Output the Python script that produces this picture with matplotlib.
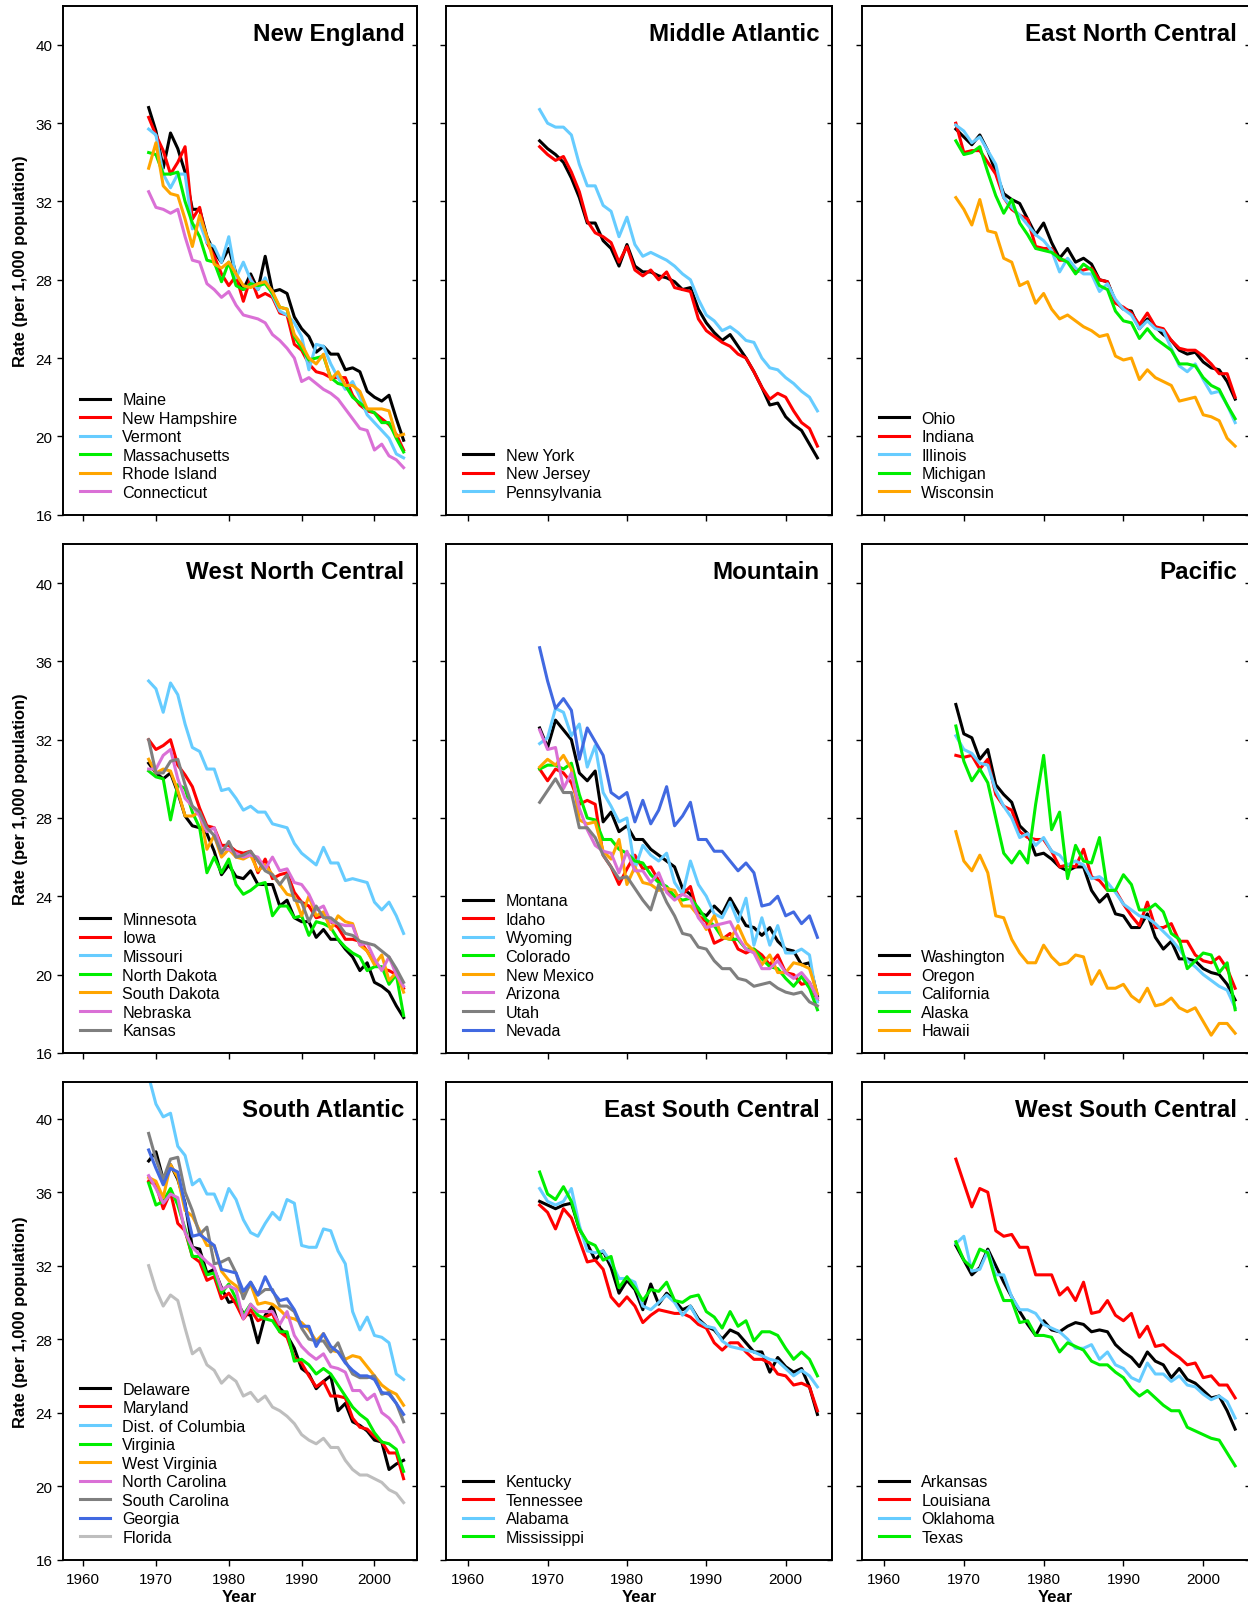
# state_rates_by_division.py
# Rate (per 1,000 population) by state, 1969-2004, one panel per census division

import matplotlib
matplotlib.use('Agg')
import matplotlib.pyplot as plt
import matplotlib.transforms as mtransforms

plt.rcParams['font.family'] = ['Liberation Sans', 'DejaVu Sans']

# ── 1. Data ──────────────────────────────────────────────────────────────
years = list(range(1969, 2005))

# New England
maine = [36.8, 35.6, 33.7, 35.5, 34.7, 33.5, 31.6, 31.6, 30.2, 29.4, 28.9, 29.6, 28.3, 27.5, 28.3, 27.5, 29.2, 27.4,
         27.5, 27.3, 26.1, 25.5, 25.1, 24.3, 24.6, 24.2, 24.2, 23.4, 23.5, 23.3, 22.3, 22.0, 21.8, 22.1, 20.9, 19.8]
new_hampshire = [36.3, 35.4, 34.6, 33.4, 34.0, 34.8, 31.1, 31.7, 29.9, 29.2, 28.3, 27.7, 28.2, 26.9, 28.1, 27.1, 27.3, 27.1,
                 26.3, 26.2, 24.7, 24.4, 23.7, 23.3, 23.2, 23.0, 23.0, 23.0, 22.1, 21.6, 21.3, 21.2, 20.9, 20.6, 20.1, 19.3]
vermont = [35.7, 35.4, 33.4, 32.7, 33.4, 33.4, 30.6, 30.9, 29.9, 29.7, 28.9, 30.2, 28.1, 28.9, 28.0, 27.5, 28.1, 27.2,
           26.4, 26.2, 25.8, 25.1, 23.4, 24.7, 24.6, 23.7, 23.0, 22.4, 22.8, 22.0, 21.1, 20.7, 20.3, 19.9, 19.1, 18.9]
massachusetts = [34.5, 34.4, 33.4, 33.4, 33.5, 32.0, 30.9, 30.2, 29.0, 28.9, 27.9, 28.9, 27.7, 27.5, 27.8, 27.7, 27.8, 27.3,
                 26.6, 26.5, 25.1, 24.5, 23.9, 24.0, 24.1, 23.0, 22.7, 22.6, 22.0, 21.7, 21.4, 21.2, 20.7, 20.7, 19.9, 19.2]
rhode_island = [33.7, 35.0, 32.8, 32.4, 32.3, 31.1, 29.7, 31.3, 30.2, 28.8, 28.6, 28.9, 28.3, 27.7, 27.6, 27.8, 27.9, 27.4,
                26.6, 26.5, 25.2, 24.7, 24.0, 23.7, 24.2, 22.9, 23.3, 22.6, 22.6, 22.3, 21.4, 21.4, 21.4, 21.3, 20.0, 20.1]
connecticut = [32.5, 31.7, 31.6, 31.4, 31.6, 30.2, 29.0, 28.9, 27.8, 27.5, 27.1, 27.4, 26.7, 26.2, 26.1, 26.0, 25.8, 25.2,
               24.9, 24.5, 24.0, 22.8, 23.0, 22.7, 22.4, 22.2, 21.9, 21.4, 20.9, 20.4, 20.3, 19.3, 19.6, 19.0, 18.8, 18.4]

# Middle Atlantic
new_york = [35.1, 34.7, 34.4, 34.0, 33.2, 32.2, 30.9, 30.9, 30.0, 29.6, 28.7, 29.8, 28.7, 28.4, 28.4, 28.2, 28.1, 27.9,
            27.5, 27.6, 26.5, 25.8, 25.3, 24.9, 25.2, 24.6, 24.0, 23.3, 22.5, 21.6, 21.7, 21.0, 20.6, 20.3, 19.6, 18.9]
new_jersey = [34.8, 34.4, 34.1, 34.3, 33.5, 32.5, 31.0, 30.4, 30.2, 29.9, 28.9, 29.7, 28.5, 28.2, 28.5, 28.0, 28.4, 27.6,
              27.5, 27.4, 26.0, 25.4, 25.1, 24.8, 24.6, 24.2, 24.0, 23.3, 22.5, 21.9, 22.2, 22.0, 21.3, 20.7, 20.4, 19.5]
pennsylvania = [36.7, 36.0, 35.8, 35.8, 35.4, 33.9, 32.8, 32.8, 31.8, 31.5, 30.2, 31.2, 29.8, 29.2, 29.4, 29.2, 29.0, 28.7,
                28.3, 28.0, 27.0, 26.2, 25.9, 25.4, 25.6, 25.3, 24.9, 24.8, 24.0, 23.5, 23.4, 23.0, 22.7, 22.3, 22.0, 21.3]

# East North Central
ohio = [35.7, 35.3, 34.9, 35.4, 34.6, 33.5, 32.4, 32.1, 31.9, 31.1, 30.3, 30.9, 29.9, 29.1, 29.6, 28.9, 29.1, 28.8,
        28.0, 27.9, 26.9, 26.5, 26.4, 25.5, 26.0, 25.6, 25.2, 24.9, 24.4, 24.2, 24.3, 23.8, 23.5, 23.4, 22.8, 21.9]
indiana = [36.0, 34.5, 34.6, 34.6, 34.0, 33.4, 32.2, 31.6, 31.3, 31.1, 29.7, 29.6, 29.6, 29.0, 29.0, 28.4, 28.5, 28.6,
           28.0, 27.9, 26.8, 26.6, 26.3, 25.7, 26.3, 25.6, 25.5, 24.9, 24.5, 24.4, 24.4, 24.1, 23.7, 23.2, 23.2, 22.0]
illinois = [35.9, 35.6, 35.0, 35.3, 34.6, 33.9, 32.2, 31.7, 31.3, 30.8, 30.3, 30.0, 29.5, 28.4, 29.1, 28.6, 28.3, 28.3,
            27.4, 27.8, 27.0, 26.5, 26.2, 25.5, 25.9, 25.5, 25.4, 24.5, 23.6, 23.3, 23.7, 22.9, 22.2, 22.3, 21.6, 20.7]
michigan = [35.1, 34.4, 34.5, 34.8, 33.5, 32.3, 31.4, 32.1, 30.9, 30.3, 29.6, 29.5, 29.4, 29.1, 28.9, 28.3, 28.8, 28.5,
            27.7, 27.5, 26.4, 25.9, 25.8, 25.0, 25.5, 25.0, 24.7, 24.4, 23.7, 23.7, 23.6, 23.0, 22.6, 22.4, 21.6, 20.9]
wisconsin = [32.2, 31.6, 30.8, 32.1, 30.5, 30.4, 29.1, 28.9, 27.7, 27.9, 26.8, 27.3, 26.5, 26.0, 26.2, 25.9, 25.6, 25.4,
             25.1, 25.2, 24.1, 23.9, 24.0, 22.9, 23.4, 23.0, 22.8, 22.6, 21.8, 21.9, 22.0, 21.1, 21.0, 20.8, 19.9, 19.5]

# West North Central
minnesota = [30.8, 30.3, 30.0, 30.3, 29.3, 28.1, 27.6, 27.5, 27.2, 26.3, 25.1, 25.6, 25.0, 24.9, 25.3, 24.6, 24.6, 24.6,
             23.5, 23.8, 22.9, 22.7, 22.7, 21.9, 22.3, 21.8, 21.8, 21.3, 20.9, 20.2, 20.6, 19.6, 19.4, 19.1, 18.4, 17.8]
iowa = [32.0, 31.5, 31.7, 32.0, 30.7, 30.2, 29.6, 28.5, 27.6, 27.5, 26.6, 26.6, 26.3, 26.2, 26.3, 25.2, 25.9, 24.9,
        25.1, 25.2, 24.2, 23.7, 23.5, 22.9, 23.0, 22.7, 22.4, 21.8, 21.8, 21.7, 21.2, 20.6, 20.3, 20.2, 20.0, 19.3]
missouri = [35.0, 34.6, 33.4, 34.9, 34.3, 32.8, 31.6, 31.4, 30.5, 30.5, 29.4, 29.5, 29.0, 28.4, 28.6, 28.3, 28.3, 27.7,
            27.6, 27.5, 26.7, 26.2, 25.9, 25.6, 26.5, 25.7, 25.7, 24.8, 24.9, 24.8, 24.7, 23.7, 23.3, 23.7, 23.0, 22.1]
north_dakota = [30.4, 30.1, 30.0, 27.9, 29.7, 29.5, 28.3, 27.5, 25.2, 26.0, 25.2, 25.9, 24.6, 24.1, 24.3, 24.6, 24.7, 23.0,
                23.5, 23.5, 22.9, 23.0, 22.0, 22.7, 22.6, 22.4, 21.8, 21.4, 21.1, 20.9, 20.2, 20.4, 20.4, 19.5, 20.0, 17.9]
south_dakota = [31.0, 30.3, 30.5, 30.4, 29.4, 28.1, 28.1, 28.3, 26.4, 27.1, 26.0, 26.4, 26.0, 25.9, 26.1, 25.3, 25.6, 25.1,
                24.6, 24.1, 24.0, 23.0, 24.0, 23.0, 23.2, 22.3, 23.0, 22.7, 22.6, 21.5, 21.2, 20.5, 21.0, 19.7, 20.1, 19.1]
nebraska = [30.5, 30.5, 31.2, 31.5, 30.0, 29.0, 28.6, 28.1, 27.3, 27.5, 26.4, 26.4, 26.2, 26.0, 26.1, 26.0, 25.4, 26.0,
            25.3, 25.4, 24.7, 24.6, 24.1, 23.3, 23.5, 22.7, 22.6, 22.5, 22.5, 21.5, 21.6, 20.8, 20.2, 20.9, 20.0, 19.4]
kansas = [32.0, 30.3, 30.3, 30.9, 31.0, 29.7, 28.6, 28.3, 27.5, 27.1, 26.2, 26.8, 26.0, 26.1, 26.3, 25.8, 25.3, 25.1,
          24.6, 25.1, 23.8, 23.7, 22.7, 23.5, 22.9, 22.9, 22.6, 22.1, 22.0, 21.7, 21.6, 21.5, 21.2, 20.9, 20.3, 19.6]

# Mountain
montana = [32.6, 31.6, 33.0, 32.5, 32.0, 30.3, 29.9, 30.4, 27.8, 28.3, 27.3, 27.6, 26.9, 26.9, 26.4, 26.1, 25.8, 25.5,
           24.4, 24.1, 23.2, 23.0, 23.5, 23.1, 23.9, 23.2, 22.5, 22.4, 22.0, 22.4, 21.7, 21.3, 21.2, 20.5, 20.6, 18.9]
idaho = [30.5, 29.9, 30.5, 30.3, 29.8, 28.7, 28.9, 28.7, 26.1, 25.5, 24.6, 25.4, 26.1, 25.4, 25.5, 24.8, 24.4, 23.9,
         24.1, 24.5, 23.0, 22.7, 21.6, 21.8, 22.1, 21.3, 21.1, 21.3, 21.0, 20.5, 21.0, 20.1, 20.0, 19.5, 19.6, 18.7]
wyoming = [31.8, 32.1, 33.6, 33.4, 32.2, 32.8, 30.6, 31.7, 29.3, 28.6, 27.8, 28.0, 25.4, 26.6, 26.1, 25.8, 26.2, 24.7,
           24.1, 25.8, 24.6, 24.0, 23.1, 22.9, 23.7, 22.7, 23.9, 21.5, 22.9, 21.5, 22.5, 21.1, 21.1, 21.3, 21.0, 18.6]
colorado = [30.5, 30.7, 30.7, 30.5, 30.8, 29.2, 28.0, 27.9, 26.9, 26.9, 26.4, 26.2, 25.8, 25.7, 25.1, 24.7, 24.5, 24.0,
            23.8, 23.9, 23.4, 22.8, 22.5, 21.9, 21.8, 21.8, 21.3, 21.3, 20.8, 20.4, 20.3, 19.8, 19.4, 19.9, 19.3, 18.2]
new_mexico = [30.6, 31.0, 30.7, 31.2, 30.5, 27.9, 27.7, 27.8, 26.3, 25.9, 26.9, 24.6, 25.5, 24.7, 24.6, 24.3, 24.4, 24.3,
              23.5, 23.5, 23.0, 22.3, 23.0, 21.9, 21.8, 22.5, 21.6, 21.2, 20.5, 21.0, 20.1, 20.1, 20.6, 20.5, 20.3, 19.0]
arizona = [32.5, 31.5, 31.6, 29.5, 30.3, 28.5, 27.4, 26.6, 26.3, 26.2, 25.2, 26.3, 25.3, 25.3, 24.7, 25.2, 24.2, 23.8,
           24.1, 23.9, 22.9, 22.4, 22.5, 22.6, 22.7, 21.9, 21.3, 21.1, 20.3, 20.3, 20.7, 20.1, 19.8, 20.1, 19.6, 18.8]
utah = [28.8, 29.4, 30.0, 29.3, 29.3, 27.5, 27.5, 27.0, 26.1, 25.5, 24.9, 25.0, 24.4, 23.8, 23.3, 24.6, 23.7, 23.0,
        22.1, 22.0, 21.4, 21.3, 20.7, 20.3, 20.3, 19.8, 19.7, 19.4, 19.5, 19.6, 19.3, 19.1, 19.0, 19.1, 18.6, 18.4]
nevada = [36.7, 35.0, 33.6, 34.1, 33.5, 31.0, 32.6, 31.9, 31.2, 29.3, 29.0, 29.3, 27.8, 28.9, 27.7, 28.4, 29.6, 27.6,
          28.1, 28.8, 26.9, 26.9, 26.3, 26.3, 25.8, 25.3, 25.7, 25.2, 23.5, 23.6, 24.0, 23.0, 23.2, 22.6, 23.0, 21.9]

# Pacific
washington = [33.8, 32.3, 32.1, 31.0, 31.5, 29.7, 29.2, 28.8, 27.6, 27.2, 26.1, 26.2, 25.9, 25.5, 25.3, 25.5, 25.5, 24.3,
              23.7, 24.1, 23.1, 23.0, 22.4, 22.4, 23.1, 21.9, 21.3, 21.7, 20.8, 20.8, 20.7, 20.3, 20.1, 20.0, 19.5, 18.7]
oregon = [31.2, 31.1, 31.2, 30.5, 31.0, 29.2, 28.6, 28.4, 27.3, 27.0, 26.9, 26.9, 26.3, 25.5, 25.6, 25.5, 26.4, 25.0,
          24.8, 24.3, 24.3, 23.6, 23.0, 22.5, 23.7, 22.4, 22.4, 22.6, 21.7, 21.7, 21.0, 20.7, 20.6, 20.9, 20.3, 19.3]
california = [32.2, 31.5, 31.3, 30.8, 30.7, 29.4, 28.6, 28.0, 27.0, 27.2, 26.6, 27.0, 26.3, 26.1, 25.6, 25.8, 25.6, 24.9,
              25.0, 24.7, 24.2, 23.6, 23.3, 23.0, 22.9, 22.6, 22.2, 21.8, 21.3, 20.7, 20.4, 20.0, 19.7, 19.4, 19.2, 18.3]
alaska = [32.7, 30.9, 29.9, 30.5, 29.8, 28.0, 26.2, 25.7, 26.3, 25.7, 28.7, 31.2, 27.4, 28.3, 24.9, 26.6, 25.8, 25.7,
          27.0, 24.3, 24.3, 25.1, 24.6, 23.3, 23.3, 23.6, 23.2, 22.1, 21.8, 20.3, 20.7, 21.1, 21.0, 20.1, 20.6, 18.2]
hawaii = [27.3, 25.8, 25.3, 26.1, 25.2, 23.0, 22.9, 21.8, 21.1, 20.6, 20.6, 21.5, 20.9, 20.5, 20.6, 21.0, 20.9, 19.5,
          20.2, 19.3, 19.3, 19.5, 18.9, 18.6, 19.3, 18.4, 18.5, 18.8, 18.3, 18.1, 18.3, 17.6, 16.9, 17.5, 17.5, 17.0]

# South Atlantic
delaware = [37.7, 38.2, 36.7, 37.5, 36.7, 35.4, 33.0, 32.9, 31.6, 31.8, 30.8, 30.0, 30.1, 29.4, 29.3, 27.8, 29.3, 29.8,
            28.6, 28.2, 27.5, 26.4, 26.1, 25.3, 25.7, 26.0, 24.1, 24.5, 23.5, 23.3, 23.0, 22.5, 22.4, 20.9, 21.2, 21.4]
maryland = [36.6, 36.4, 35.1, 36.0, 34.3, 33.9, 32.5, 32.2, 31.2, 31.4, 30.2, 30.5, 29.9, 29.1, 29.6, 29.0, 29.2, 29.4,
            28.4, 28.1, 27.0, 26.7, 26.0, 25.4, 25.7, 24.9, 24.9, 24.8, 23.7, 23.2, 23.1, 22.7, 22.4, 21.8, 21.8, 20.4]
dist_columbia = [42.3, 40.8, 40.1, 40.3, 38.5, 38.0, 36.4, 36.7, 35.9, 35.9, 35.0, 36.2, 35.6, 34.5, 33.8, 33.6, 34.3, 34.9,
                 34.5, 35.6, 35.4, 33.1, 33.0, 33.0, 34.0, 33.9, 32.8, 32.1, 29.5, 28.5, 29.2, 28.2, 28.1, 27.8, 26.1, 25.8]
virginia = [36.5, 35.3, 35.5, 36.2, 35.3, 34.0, 32.5, 32.5, 31.5, 31.6, 30.5, 31.0, 30.2, 29.3, 29.9, 29.3, 29.1, 29.0,
            28.4, 28.4, 26.8, 26.9, 26.6, 26.1, 26.4, 26.1, 25.5, 24.9, 24.3, 23.9, 23.6, 22.9, 22.4, 22.3, 22.0, 20.8]
west_virginia = [36.8, 36.6, 35.7, 37.5, 36.8, 35.0, 34.7, 33.9, 33.1, 33.1, 31.7, 31.2, 30.9, 30.4, 31.0, 29.9, 30.0, 29.9,
                 29.6, 29.2, 29.1, 28.9, 28.5, 27.9, 28.3, 27.4, 27.3, 26.9, 27.1, 27.0, 26.5, 26.0, 25.5, 25.2, 25.0, 24.4]
north_carolina = [36.9, 36.2, 35.4, 35.9, 35.7, 33.8, 33.0, 32.6, 32.2, 31.9, 30.7, 30.9, 30.7, 29.1, 29.9, 29.5, 29.5, 29.5,
                  28.8, 29.5, 28.2, 27.6, 27.2, 26.9, 27.2, 26.5, 26.4, 26.2, 25.2, 25.2, 24.7, 25.0, 24.0, 23.7, 23.2, 22.4]
south_carolina = [39.2, 37.8, 36.7, 37.8, 37.9, 36.0, 35.0, 33.7, 34.1, 32.1, 32.2, 32.4, 31.6, 30.2, 31.1, 30.4, 30.7, 30.7,
                  29.8, 29.8, 29.5, 28.6, 28.0, 27.9, 27.9, 27.3, 27.8, 26.8, 26.1, 25.9, 25.9, 26.0, 25.0, 25.1, 24.5, 23.5]
georgia = [38.3, 37.3, 36.4, 37.3, 37.1, 35.3, 33.6, 33.7, 33.4, 33.1, 31.8, 31.7, 31.6, 30.6, 31.1, 30.4, 31.4, 30.6,
           30.1, 30.2, 29.6, 28.7, 28.7, 27.6, 28.3, 27.6, 27.3, 26.7, 26.3, 26.0, 26.0, 25.8, 25.1, 25.0, 24.5, 23.9]
florida = [32.0, 30.7, 29.8, 30.4, 30.1, 28.6, 27.2, 27.5, 26.6, 26.3, 25.6, 26.0, 25.7, 24.9, 25.1, 24.6, 24.9, 24.3,
           24.1, 23.8, 23.4, 22.8, 22.5, 22.3, 22.6, 22.1, 22.1, 21.4, 20.9, 20.6, 20.6, 20.4, 20.2, 19.8, 19.6, 19.1]

# East South Central
kentucky = [35.5, 35.3, 35.1, 35.3, 35.4, 34.0, 33.2, 32.3, 32.8, 31.9, 30.5, 31.2, 30.7, 29.6, 31.0, 29.9, 30.5, 30.1,
            29.6, 29.8, 29.1, 28.7, 28.5, 28.0, 28.5, 28.3, 27.8, 27.3, 27.3, 26.2, 27.0, 26.5, 26.2, 26.4, 25.4, 23.9]
tennessee = [35.3, 34.9, 34.0, 35.1, 34.6, 33.4, 32.2, 32.3, 31.8, 30.3, 29.8, 30.3, 29.8, 28.9, 29.3, 29.6, 29.5, 29.4,
             29.4, 29.2, 28.8, 28.6, 27.8, 27.4, 27.8, 27.8, 27.3, 26.9, 26.9, 26.7, 26.1, 26.0, 25.5, 25.6, 25.4, 24.1]
alabama = [36.2, 35.5, 35.3, 35.5, 36.2, 34.2, 32.8, 32.7, 32.8, 32.2, 31.3, 31.3, 31.1, 29.8, 29.6, 30.0, 30.4, 30.0,
           29.3, 29.8, 29.0, 28.7, 28.6, 27.9, 27.6, 27.5, 27.4, 27.3, 27.1, 26.9, 26.8, 26.4, 26.0, 26.3, 26.0, 25.4]
mississippi = [37.1, 35.9, 35.6, 36.3, 35.5, 34.0, 33.3, 33.1, 32.3, 32.5, 30.8, 31.4, 30.8, 30.1, 30.7, 30.6, 31.1, 30.1,
               30.0, 30.3, 30.4, 29.5, 29.2, 28.6, 29.5, 28.7, 29.0, 27.9, 28.4, 28.4, 28.2, 27.5, 26.9, 27.3, 26.9, 26.0]

# West South Central
arkansas = [33.1, 32.3, 31.5, 31.9, 32.9, 32.0, 31.1, 30.3, 29.5, 28.8, 28.2, 29.0, 28.5, 28.4, 28.7, 28.9, 28.8, 28.4,
            28.5, 28.4, 27.7, 27.3, 27.0, 26.5, 27.3, 26.8, 26.6, 25.9, 26.4, 25.8, 25.6, 25.2, 24.8, 24.9, 24.1, 23.1]
louisiana = [37.8, 36.5, 35.2, 36.2, 36.0, 33.9, 33.6, 33.7, 33.0, 33.0, 31.5, 31.5, 31.5, 30.4, 30.8, 30.1, 31.1, 29.4,
             29.5, 30.1, 29.3, 29.0, 29.4, 28.1, 28.7, 27.6, 27.7, 27.3, 27.0, 26.6, 26.7, 25.9, 26.0, 25.5, 25.5, 24.8]
oklahoma = [33.2, 33.6, 31.7, 31.8, 32.8, 31.5, 31.5, 30.3, 29.6, 29.6, 29.4, 28.8, 28.6, 28.4, 28.0, 27.5, 27.5, 27.7,
            26.9, 27.3, 26.6, 26.4, 25.9, 25.7, 26.7, 26.1, 26.1, 25.7, 26.0, 25.5, 25.4, 25.0, 24.7, 24.9, 24.6, 23.7]
texas = [33.3, 32.3, 31.9, 32.9, 32.7, 31.2, 30.1, 30.1, 28.9, 29.0, 28.2, 28.2, 28.1, 27.3, 27.8, 27.6, 27.4, 26.8,
         26.6, 26.6, 26.2, 25.9, 25.3, 24.9, 25.2, 24.8, 24.4, 24.1, 24.1, 23.2, 23.0, 22.8, 22.6, 22.5, 21.8, 21.1]

regions = [
    ('New England', [('Maine', maine), ('New Hampshire', new_hampshire), ('Vermont', vermont),
                     ('Massachusetts', massachusetts), ('Rhode Island', rhode_island), ('Connecticut', connecticut)]),
    ('Middle Atlantic', [('New York', new_york), ('New Jersey', new_jersey), ('Pennsylvania', pennsylvania)]),
    ('East North Central', [('Ohio', ohio), ('Indiana', indiana), ('Illinois', illinois),
                            ('Michigan', michigan), ('Wisconsin', wisconsin)]),
    ('West North Central', [('Minnesota', minnesota), ('Iowa', iowa), ('Missouri', missouri),
                            ('North Dakota', north_dakota), ('South Dakota', south_dakota),
                            ('Nebraska', nebraska), ('Kansas', kansas)]),
    ('Mountain', [('Montana', montana), ('Idaho', idaho), ('Wyoming', wyoming), ('Colorado', colorado),
                  ('New Mexico', new_mexico), ('Arizona', arizona), ('Utah', utah), ('Nevada', nevada)]),
    ('Pacific', [('Washington', washington), ('Oregon', oregon), ('California', california),
                 ('Alaska', alaska), ('Hawaii', hawaii)]),
    ('South Atlantic', [('Delaware', delaware), ('Maryland', maryland), ('Dist. of Columbia', dist_columbia),
                        ('Virginia', virginia), ('West Virginia', west_virginia),
                        ('North Carolina', north_carolina), ('South Carolina', south_carolina),
                        ('Georgia', georgia), ('Florida', florida)]),
    ('East South Central', [('Kentucky', kentucky), ('Tennessee', tennessee), ('Alabama', alabama),
                            ('Mississippi', mississippi)]),
    ('West South Central', [('Arkansas', arkansas), ('Louisiana', louisiana), ('Oklahoma', oklahoma),
                            ('Texas', texas)]),
]

palette = ['black', '#FF0000', '#66CCFF', '#00EE00', '#FFA500', '#DA70D6', '#7F7F7F', '#4169E1', '#BEBEBE']

# ── 2. Layout (pixel boxes of the 1248x1608 original) ───────────────────
W, H = 1248, 1608
col_left = [62.7, 446.0, 861.7]
col_right = [416.7, 831.7, 1249.5]
row_top = [6.8, 545.0, 1083.0]
row_bottom = [515.6, 1053.8, 1560.5]

fig = plt.figure(figsize=(W / 100, H / 100), dpi=100)

for i, (division, members) in enumerate(regions):
    r, c = divmod(i, 3)
    ax = fig.add_axes([col_left[c] / W, 1 - row_bottom[r] / H,
                       (col_right[c] - col_left[c]) / W, (row_bottom[r] - row_top[r]) / H])

    for j, (state, vals) in enumerate(members):
        ax.plot(years, vals, color=palette[j], lw=2.2, label=state)

    ax.set_xlim(1957.2, 2005.8)
    ax.set_ylim(16, 42)
    ax.set_xticks([1960, 1970, 1980, 1990, 2000])
    ax.set_yticks([16, 20, 24, 28, 32, 36, 40])
    ax.tick_params(direction='out', length=4.3, width=1.0, labelsize=11, colors='black')
    ax.tick_params(axis='x', pad=5)
    ax.tick_params(axis='y', pad=3)
    for sp in ax.spines.values():
        sp.set_linewidth(1.4)

    # right side ticks point inwards
    sec = ax.secondary_yaxis('right')
    sec.set_yticks([16, 20, 24, 28, 32, 36, 40])
    sec.tick_params(direction='in', length=3.4, width=1.0, labelright=False)
    sec.spines['right'].set_linewidth(1.4)

    if c != 0:
        ax.tick_params(labelleft=False)
    if r != 2:
        ax.tick_params(labelbottom=False)

    ax.annotate(division, xy=(1, 1), xycoords='axes fraction', xytext=(-8.9, -24.7),
                textcoords='offset points', ha='right', va='baseline',
                fontsize=17.4, fontweight='bold')

    leg_tr = mtransforms.offset_copy(ax.transAxes, fig=fig, x=17.3, y=14.6, units='dots')
    ax.legend(loc='lower left', bbox_to_anchor=(0, 0), bbox_transform=leg_tr,
              frameon=False, fontsize=11.6, handlelength=1.86, handletextpad=0.76,
              labelspacing=0.22, borderpad=0, borderaxespad=0)

# axis titles
for r in range(3):
    yc = 1 - (row_top[r] + row_bottom[r]) / 2 / H
    fig.text(20.5 / W, yc, 'Rate (per 1,000 population)', rotation=90, ha='center', va='center',
             fontsize=11.9, fontweight='bold')
for c in range(3):
    xc = (col_left[c] + col_right[c]) / 2 / W
    fig.text(xc, 1 - 1598 / H, 'Year', ha='center', va='center', fontsize=12, fontweight='bold')

fig.savefig('out.png', dpi=100)
plt.close(fig)
